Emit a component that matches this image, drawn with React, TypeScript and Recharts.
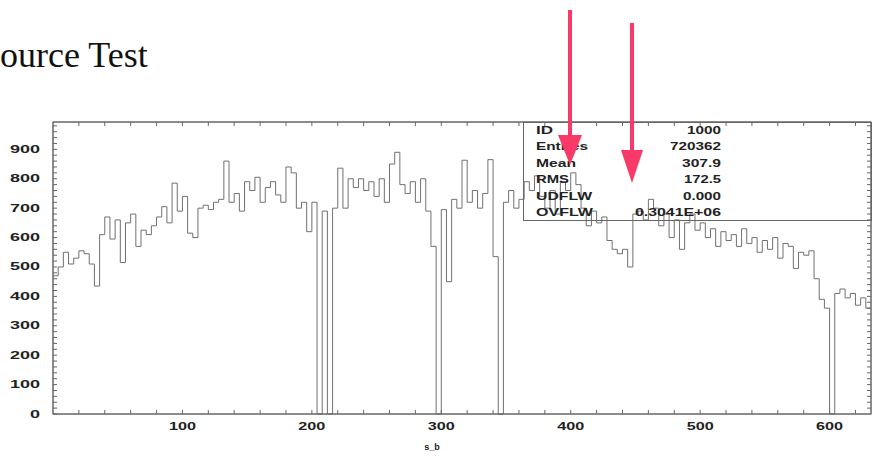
import { LineChart, Line, XAxis, YAxis } from "recharts";

const BIN_WIDTH = 4;
const X_MAX = 632;
const Y_MAX = 993;

// entries per bin of s_b (bin i starts at i * BIN_WIDTH)
const counts = [
  470, 500, 550, 510, 530, 555, 545, 510, 435, 610,
  670, 595, 660, 515, 650, 680, 570, 625, 610, 640,
  670, 705, 650, 785, 690, 740, 615, 600, 700, 710,
  695, 720, 730, 860, 720, 750, 690, 790, 760, 805,
  720, 770, 790, 745, 720, 840, 820, 700, 720, 620,
  720, 0, 690, 0, 700, 836, 700, 800, 770, 800,
  760, 790, 740, 800, 720, 850, 890, 780, 750, 790,
  720, 800, 690, 570, 0, 695, 450, 730, 700, 863,
  720, 760, 700, 750, 865, 535, 0, 720, 760, 700,
  730, 790, 760, 810, 740, 700, 760, 680, 790, 760,
  820, 780, 700, 640, 690, 650, 670, 590, 560, 545,
  560, 500, 680, 690, 660, 730, 700, 640, 680, 600,
  660, 560, 650, 680, 625, 650, 600, 630, 570, 620,
  590, 610, 570, 630, 580, 600, 550, 590, 560, 600,
  530, 580, 570, 495, 550, 540, 555, 460, 390, 360,
  0, 410, 425, 395, 410, 370, 395, 360,
];

const xLabels = [100, 200, 300, 400, 500, 600];
const yLabels = [0, 100, 200, 300, 400, 500, 600, 700, 800, 900];
const xMinorTicks = Array.from({ length: 31 }, (_, i) => (i + 1) * 20);
const yMinorTicks = Array.from({ length: 49 }, (_, i) => (i + 1) * 20);

const statNames = ["ID", "Entries", "Mean", "RMS", "UDFLW", "OVFLW"];
const statValues = ["1000", "720362", "307.9", "172.5", "0.000", "0.3041E+06"];

const data = [
  ...counts.map((c, i) => ({ x: i * BIN_WIDTH, n: c })),
  { x: X_MAX, n: counts[counts.length - 1] },
];

const LABEL_FONT = "'Liberation Sans', Arial, sans-serif";
const FRAME = "#666";
const PINK = "#f93a68";

function XTick({ x, y, payload }: any) {
  if (!xLabels.includes(payload.value)) return <g />;
  const s = String(payload.value);
  return (
    <text
      x={x}
      y={y + 15.5}
      textAnchor="middle"
      fontSize={10}
      fontWeight="bold"
      fontFamily={LABEL_FONT}
      fill="#222"
      textLength={s.length * 9}
      lengthAdjust="spacingAndGlyphs"
    >
      {s}
    </text>
  );
}

function YTick({ x, y, payload }: any) {
  if (!yLabels.includes(payload.value)) return <g />;
  const s = String(payload.value);
  return (
    <text
      x={x - 13}
      y={y + 3.5}
      textAnchor="end"
      fontSize={10}
      fontWeight="bold"
      fontFamily={LABEL_FONT}
      fill="#222"
      textLength={s.length * 10}
      lengthAdjust="spacingAndGlyphs"
    >
      {s}
    </text>
  );
}

function NoLabel() {
  return <g />;
}

function StatText({ x, y, s, anchor, w }: any) {
  return (
    <text
      x={x}
      y={y}
      textAnchor={anchor}
      fontSize={10}
      fontWeight="bold"
      fontFamily={LABEL_FONT}
      fill="#222"
      textLength={w}
      lengthAdjust="spacingAndGlyphs"
    >
      {s}
    </text>
  );
}

export default function App() {
  return (
    <div
      style={{
        position: "absolute",
        left: 0,
        top: 0,
        width: 873,
        height: 456,
        background: "#fff",
        overflow: "hidden",
      }}
    >
      <div
        style={{
          position: "absolute",
          left: 0,
          top: 34,
          fontFamily: "'Liberation Serif', 'Times New Roman', serif",
          fontSize: 36,
          lineHeight: "normal",
          color: "#111",
          whiteSpace: "nowrap",
        }}
      >
        ource Test
      </div>

      <div style={{ position: "absolute", left: 0, top: 0 }}>
        <LineChart
          width={873}
          height={456}
          data={data}
          margin={{ top: 121, right: 1, bottom: 0, left: 0 }}
        >
          <XAxis
            dataKey="x"
            type="number"
            domain={[0, X_MAX]}
            ticks={xMinorTicks}
            interval={0}
            height={42}
            stroke={FRAME}
            tickSize={-4}
            tickMargin={4}
            tick={<XTick />}
          />
          <XAxis
            xAxisId="top"
            dataKey="x"
            orientation="top"
            type="number"
            domain={[0, X_MAX]}
            ticks={xMinorTicks}
            interval={0}
            height={1}
            stroke={FRAME}
            tickSize={-4}
            tick={<NoLabel />}
          />
          <YAxis
            type="number"
            domain={[0, Y_MAX]}
            ticks={yMinorTicks.concat([0])}
            interval={0}
            width={53}
            stroke={FRAME}
            tickSize={-4}
            tickMargin={4}
            tick={<YTick />}
          />
          <YAxis
            yAxisId="right"
            orientation="right"
            type="number"
            domain={[0, Y_MAX]}
            ticks={yMinorTicks}
            interval={0}
            width={1}
            stroke={FRAME}
            tickSize={-4}
            tick={<NoLabel />}
          />
          <Line
            type="stepAfter"
            dataKey="n"
            stroke="#707070"
            strokeWidth={1}
            dot={false}
            isAnimationActive={false}
          />
          {/* invisible copy so the top/right frame axes get drawn */}
          <Line
            xAxisId="top"
            yAxisId="right"
            type="stepAfter"
            dataKey="n"
            stroke="none"
            dot={false}
            legendType="none"
            isAnimationActive={false}
          />
        </LineChart>
      </div>

      <svg
        width={873}
        height={456}
        style={{ position: "absolute", left: 0, top: 0, pointerEvents: "none" }}
      >
        <rect x={53} y={122} width={818} height={292} fill="none" stroke={FRAME} strokeWidth={1} />
        <rect x={523.5} y={122.5} width={348} height={98} fill="none" stroke={FRAME} strokeWidth={1} />
        {statNames.map((name, i) => (
          <StatText
            key={name}
            x={536}
            y={134 + i * 16.4}
            s={name}
            anchor="start"
            w={[17, 52, 40, 33, 56, 57][i]}
          />
        ))}
        {statValues.map((v, i) => (
          <StatText
            key={v}
            x={721}
            y={134 + i * 16.4}
            s={v}
            anchor="end"
            w={[34, 51, 39, 37, 38, 86][i]}
          />
        ))}
        <text
          x={432}
          y={450}
          textAnchor="middle"
          fontSize={9}
          fontWeight="bold"
          fontFamily={LABEL_FONT}
          fill="#222"
        >
          s_b
        </text>

        <line x1={570} y1={10} x2={570} y2={140} stroke={PINK} strokeWidth={4} />
        <polygon points="558,135 582,135 570,165" fill={PINK} />
        <line x1={632} y1={23} x2={632} y2={155} stroke={PINK} strokeWidth={4} />
        <polygon points="621,150 643,150 632,183" fill={PINK} />
      </svg>
    </div>
  );
}
